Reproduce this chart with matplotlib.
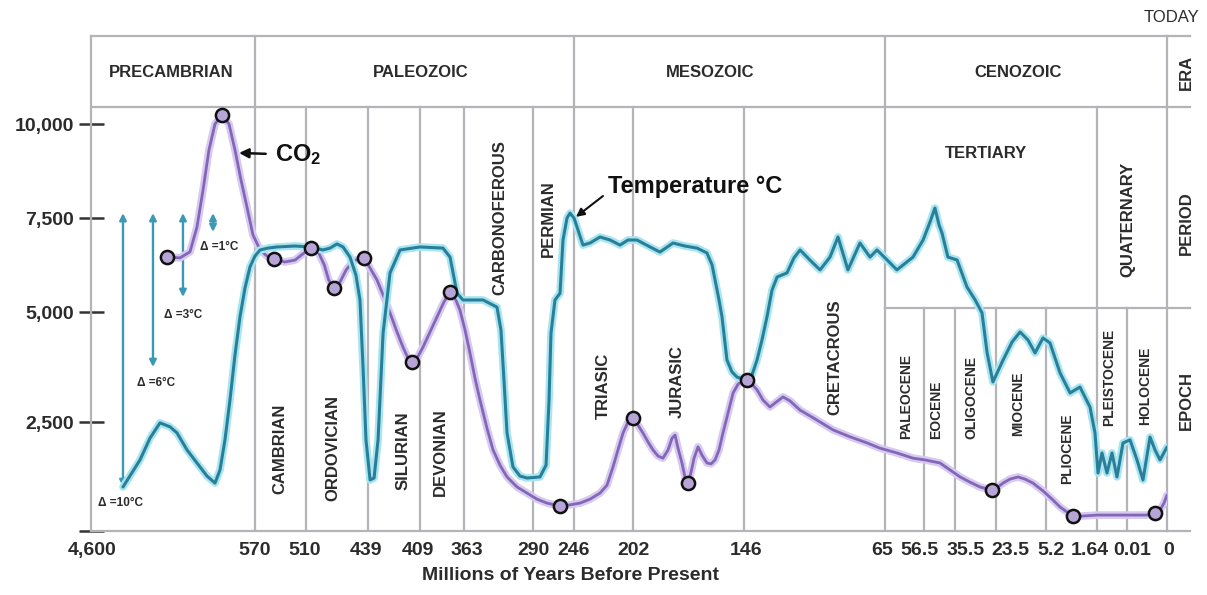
import numpy as np
import matplotlib
matplotlib.use("Agg")
import matplotlib.pyplot as plt
from matplotlib.ticker import NullLocator
from matplotlib.transforms import blended_transform_factory

plt.rcParams['font.family'] = ['Liberation Sans', 'DejaVu Sans']
plt.rcParams['mathtext.fontset'] = 'custom'
plt.rcParams['mathtext.rm'] = 'Liberation Sans:bold'
plt.rcParams['mathtext.it'] = 'Liberation Sans:bold'

# x axis: millions of years before present (uneven spacing, as in the chart)
tick_ages = [4600, 570, 510, 439, 409, 363, 290, 246, 202, 146,
             65, 56.5, 35.5, 23.5, 5.2, 1.64, 0.01, 0]
tick_labels = ["4,600", "570", "510", "439", "409", "363", "290", "246", "202", "146",
               "65", "56.5", "35.5", "23.5", "5.2", "1.64", "0.01", "0"]
y_ticks = [0, 2500, 5000, 7500, 10000]
y_labels = ["", "2,500", "5,000", "7,500", "10,000"]

# CO2 curve (ppm)
co2_age = [2733, 2413, 2168, 1996, 1848, 1701, 1553, 1381, 1209, 1062, 914, 767, 620,
           564, 556, 548, 535, 523, 514, 504, 496, 489, 484, 478, 471, 464, 456, 444,
           437.8, 433.8, 429.8, 426.3, 422.3, 418.8, 415.9, 413.6, 410.7, 405.9, 398.5,
           391.2, 383.9, 377.6, 372.4, 367.2, 361.9, 356.7, 351.4, 346.1, 338.7, 332.3,
           324.9, 317.5, 306.9, 296.3, 285.7, 275, 261, 250.3, 241.5, 234.1, 226.6,
           221.4, 216.9, 213.2, 209.4, 205.7, 202, 199.5, 197, 194.4, 191.9, 189.4,
           186.9, 184.3, 182.3, 180.8, 179.3, 177.3, 175.8, 174.3, 172.7, 171.2, 169.2,
           167.2, 164.7, 162.6, 160.6, 158.6, 156.6, 154.1, 151.5, 149, 146.5, 144.3,
           141.4, 138.5, 135.1, 131.1, 127.6, 123.6, 119.6, 113.8, 105.2, 94.9, 85.1,
           75.3, 67.9, 62.4, 58.9, 55.8, 45.7, 38.9, 34.0, 31.1, 28.2, 24.7, 22.8, 20.9,
           18.4, 15.4, 12.9, 10.0, 6.3, 4.71, 4.22, 3.73, 3.32, 2.83, 1.64, 0.01, 0.005,
           0.003, 0.00175, 0.00075, 0.0]
co2_ppm = [6460, 6440, 6600, 7260, 8240, 9310, 10000, 10240, 10000, 9310, 8510, 7790, 7050,
           6650, 6490, 6410, 6330, 6380, 6540, 6700, 6600, 6250, 5850, 5640, 5800, 6120,
           6360, 6440, 6170, 5850, 5400, 4980, 4550, 4200, 3950, 3860, 3950, 4200, 4550,
           4890, 5270, 5530, 5370, 5050, 4590, 4070, 3500, 3000, 2360, 1860, 1510, 1240,
           1010, 870, 730, 640, 570, 600, 640, 730, 870, 1050, 1470, 1860, 2250, 2500,
           2590, 2430, 2250, 2040, 1860, 1720, 1670, 1860, 2130, 2200, 1900, 1560, 1240,
           1100, 1350, 1670, 1930, 1740, 1560, 1540, 1630, 1860, 2250, 2700, 3160, 3360,
           3450, 3450, 3360, 3230, 3000, 2840, 2950, 3070, 2980, 2770, 2570, 2320, 2160,
           2020, 1900, 1790, 1670, 1630, 1560, 1400, 1240, 1120, 1010, 940, 1010, 1100,
           1190, 1240, 1190, 1100, 920, 710, 550, 435, 340, 340, 365, 365, 365, 410, 480,
           640, 825]

# sample points circled on the CO2 curve
co2_pts_age = [2733, 1381, 548, 504, 478, 444, 413.6, 377.6, 261, 202, 174.3, 144.3,
               24.7, 3.32, 0.003]
co2_pts_ppm = [6460, 10240, 6410, 6700, 5640, 6440, 3860, 5530, 570, 2590, 1100, 3450,
               940, 340, 410]

# temperature curve (drawn on the same vertical scale)
temp_age = [3814, 3396, 3150, 2905, 2659, 2487, 2241, 1996, 1750, 1553, 1430, 1308, 1185,
            1062, 939, 816, 693, 570, 564, 554.7, 544.1, 523, 505.4, 490.5, 482.5, 474.5,
            467.6, 459.6, 452.8, 448.2, 444.7, 441.3, 437.8, 435.5, 433.2, 430.3, 426.3,
            420.5, 409, 385, 377.6, 370.3, 364.1, 342.9, 328.1, 323.9, 320.7, 317.5,
            311.2, 303.8, 296.3, 282.5, 276, 272.8, 270.7, 266.4, 261, 257.8, 253.5,
            250.3, 246, 243, 239.3, 234.1, 226.6, 219.1, 211.7, 205.7, 200, 193.4, 188.4,
            181.8, 175.8, 169.7, 164.7, 162.1, 160.6, 158.6, 157.1, 154.6, 152.1, 149.5,
            144.3, 141.4, 138.5, 135.7, 132.8, 129.9, 127.0, 121.3, 117.3, 113.8, 108.1,
            102.3, 96.6, 92.0, 86.3, 79.4, 73.6, 69.6, 65.0, 62.4, 58.9, 56.7, 52.4, 49.1,
            46.3, 44.3, 40.3, 34.9, 32.0, 29.6, 27.6, 26.1, 24.4, 20.9, 17.6, 14.7, 11.8,
            9.2, 6.3, 4.92, 4.22, 3.52, 2.83, 2.13, 1.78, 1.586, 1.37, 1.097, 0.826,
            0.554, 0.228, 0.00925, 0.0075, 0.006, 0.00425, 0.003, 0.00175, 0.0]
temp_val = [1010, 1630, 2130, 2480, 2390, 2250, 1860, 1560, 1260, 1100, 1400, 2090, 3000,
            4020, 4890, 5640, 6200, 6490, 6650, 6700, 6730, 6755, 6730, 6650, 6700, 6810,
            6730, 6460, 5980, 5320, 3750, 2090, 1170, 1215, 2090, 4520, 6040, 6650, 6730,
            6700, 6460, 5500, 5320, 5320, 5130, 4590, 3450, 2250, 1470, 1260, 1215, 1240,
            1510, 3000, 4520, 5320, 5500, 6915, 7500, 7630, 7500, 7180, 6780, 6835, 6995,
            6915, 6780, 6915, 6915, 6730, 6595, 6835, 6755, 6700, 6570, 6250, 5850, 5320,
            4890, 3910, 3640, 3520, 3450, 3570, 3910, 4360, 4890, 5585, 5930, 6040, 6440,
            6650, 6380, 6120, 6460, 6995, 6120, 6835, 6460, 6650, 6440, 6120, 6460, 6915,
            7395, 7765, 7315, 7100, 6460, 6385, 5665, 5320, 4980, 4070, 3410, 3910, 4320,
            4545, 4365, 4070, 4410, 4295, 3615, 3160, 3295, 2840, 2250, 1330, 1790, 1330,
            1790, 1240, 2020, 2090, 1630, 1170, 2155, 1860, 1630, 1925]

# temperature range arrows on the left
delta_age = [3814, 3077, 2340, 1602]
delta_top = [7630, 7630, 7630, 7630]
delta_bottom = [1010, 3750, 5400, 7130]
delta_labels = ["Δ =10°C", "Δ =6°C", "Δ =3°C", "Δ =1°C"]

era_names = ["PRECAMBRIAN", "PALEOZOIC", "MESOZOIC", "CENOZOIC"]
era_bounds = [570, 246, 65]
period_bounds = [510, 439, 409, 363, 290, 202, 146, 1.64]
epoch_bounds = [56.5, 35.5, 23.5, 5.2, 0.01]
period_names = ["CAMBRIAN", "ORDOVICIAN", "SILURIAN", "DEVONIAN", "CARBONOFEROUS",
                "PERMIAN", "TRIASIC", "JURASIC", "CRETACROUS", "QUATERNARY"]
epoch_names = ["PALEOCENE", "EOCENE", "OLIGOCENE", "MIOCENE", "PLIOCENE",
               "PLEISTOCENE", "HOLOCENE"]

# layout of the uneven scales (axis units at each tick)
tick_pos = [91, 255, 306, 368, 420, 464, 533, 574, 633, 744,
            885, 924, 955, 996, 1046, 1097, 1127, 1167]
_a = np.array([-0.01] + tick_ages[::-1] + [9000.0])
_p = np.array([1207.0] + tick_pos[::-1] + [-88.0])
_v = np.array([-2500, 0, 2500, 5000, 7500, 10000, 14000], dtype=float)
_q = np.array([-109, 0, 109, 219, 313, 407, 557], dtype=float)


def age_fwd(x):
    # increasing with age, the axis itself is inverted
    return -np.interp(x, _a, _p)


def age_inv(p):
    return np.interp(-np.asarray(p), _p[::-1], _a[::-1])


def ppm_fwd(y):
    return np.interp(y, _v, _q)


def ppm_inv(q):
    return np.interp(q, _q, _v)


txt = '#2b2b2b'
grid_c = '#b4b4b8'
purple = '#8466b8'
teal = '#2a7f98'

fig = plt.figure(figsize=(12.07, 5.95), dpi=100)
ax = fig.add_axes([91/1207, 64/595, 1076/1207, 495/595])
ax.set_xscale('function', functions=(age_fwd, age_inv))
ax.set_yscale('function', functions=(ppm_fwd, ppm_inv))
ax.set_xlim(4600, 0)
ax.set_ylim(0, 12347)

for s in ax.spines.values():
    s.set_color(grid_c)
    s.set_linewidth(1.6)

# header / grid structure
era_y = 0.8566
epoch_y = 0.4505
for a in era_bounds:
    ax.axvline(a, ymin=0, ymax=1, color=grid_c, lw=1.6, zorder=1)
for a in period_bounds:
    ax.axvline(a, ymin=0, ymax=era_y, color=grid_c, lw=1.6, zorder=1)
for a in epoch_bounds:
    ax.axvline(a, ymin=0, ymax=epoch_y, color=grid_c, lw=1.6, zorder=1)
ax.plot([0, 1], [era_y, era_y], transform=ax.transAxes, color=grid_c, lw=1.6, zorder=1)
btrans = blended_transform_factory(ax.transData, ax.transAxes)
ax.plot([65, 0], [epoch_y, epoch_y], transform=btrans, color=grid_c, lw=1.6, zorder=1)
for yf in [0, epoch_y, era_y, 1.0]:
    ax.plot([1, 1.0214], [yf, yf], transform=ax.transAxes, clip_on=False,
            color=grid_c, lw=1.6)

# curves
ax.plot(co2_age, co2_ppm, color='#d6caef', lw=5.5, solid_capstyle='round',
        solid_joinstyle='round', zorder=3)
ax.plot(co2_age, co2_ppm, color=purple, lw=2.0, solid_capstyle='round',
        solid_joinstyle='round', zorder=4)
ax.plot(temp_age, temp_val, color='#a8e5f0', lw=5.5, solid_capstyle='round',
        solid_joinstyle='round', zorder=5)
ax.plot(temp_age, temp_val, color=teal, lw=2.2, solid_capstyle='round',
        solid_joinstyle='round', zorder=6)
ax.plot(co2_pts_age, co2_pts_ppm, 'o', ls='none', ms=9.5, mfc='#b7a5d8', mec='#111111',
        mew=1.8, zorder=8)

# delta arrows
for a, t, b in zip(delta_age, delta_top, delta_bottom):
    ax.annotate('', xy=(a, t), xytext=(a, b),
                arrowprops=dict(arrowstyle='<|-|>', color='#3a9ab5', lw=1.7,
                                mutation_scale=10, shrinkA=0, shrinkB=0), zorder=2)
delta_xy = [(3863, 640), (3003, 3390), (2340, 4930), (1455, 6730)]
for lab, (x, y) in zip(delta_labels, delta_xy):
    ax.text(x, y, lab, ha='center', va='center', fontsize=8.5, fontweight='bold', color=txt)

# annotations
ax.annotate("CO$_2$", xy=(964, 9230), xytext=(546, 9180), ha='left', va='center',
            fontsize=17, fontweight='bold', color='#111111',
            arrowprops=dict(arrowstyle='-|>', color='#111111', lw=1.8,
                            mutation_scale=14, shrinkA=5, shrinkB=0), zorder=9)
ax.text(220.6, 8325, "Temperature °C", ha='left', va='center', fontsize=17,
        fontweight='bold', color='#111111', zorder=9)
ax.annotate('', xy=(244.5, 7530), xytext=(224.4, 8085),
            arrowprops=dict(arrowstyle='-|>', color='#111111', lw=1.5,
                            mutation_scale=12, shrinkA=0, shrinkB=0), zorder=9)

# era labels
era_x = [2634, 408, 163, 15.4]
for name, x in zip(era_names, era_x):
    ax.text(x, 0.927, name, transform=btrans, ha='center', va='center',
            fontsize=12, fontweight='bold', color=txt)

# period labels
period_xy = [(540.6, 0.1657), (479, 0.1677), (418.8, 0.1616), (388.1, 0.1596),
             (324.9, 0.6323), (273.9, 0.6303), (224.4, 0.2929), (179.8, 0.3010),
             (93.7, 0.3515), (0.00975, 0.6303)]
for name, (x, y) in zip(period_names, period_xy):
    ax.text(x, y, name, transform=btrans, rotation=90, ha='center', va='center',
            fontsize=12, fontweight='bold', color=txt)
ax.text(26.4, 0.7636, "TERTIARY", transform=btrans, ha='center', va='center',
        fontsize=12, fontweight='bold', color=txt)

# epoch labels
epoch_xy = [(60.4, 0.2727), (48.4, 0.2444), (30.8, 0.2707), (15.4, 0.2566),
            (3.73, 0.1657), (0.988, 0.3111), (0.0055, 0.2929)]
for name, (x, y) in zip(epoch_names, epoch_xy):
    ax.text(x, y, name, transform=btrans, rotation=90, ha='center', va='center',
            fontsize=10, fontweight='bold', color=txt)

# right column
for name, yf in [("ERA", 0.927), ("PERIOD", 0.622), ("EPOCH", 0.2646)]:
    ax.text(1.0177, yf, name, transform=ax.transAxes, rotation=90, ha='center',
            va='center', fontsize=12, fontweight='bold', color=txt)

# ticks
ax.set_yticks(y_ticks)
ax.set_yticklabels(y_labels)
ax.yaxis.set_minor_locator(NullLocator())
ax.tick_params(axis='y', direction='inout', length=18, width=1.8, color='#333333',
               pad=3, labelsize=14, labelcolor=txt)
for lab in ax.get_yticklabels():
    lab.set_fontweight('bold')
ax.set_xticks([])
ax.xaxis.set_minor_locator(NullLocator())

label_dx = [1, 0, -1, -2, -2, 3, 0, 0, 1, 2, -3, -5, 11, 14, 5, -7, 5, 2]
for a, lab, dx in zip(tick_ages, tick_labels, label_dx):
    ax.annotate(lab, xy=(a, 0), xycoords=btrans, xytext=(dx * 0.72, -13.7),
                textcoords='offset points', ha='center', va='center',
                fontsize=14, fontweight='bold', color=txt, annotation_clip=False)

fig.text(1171/1207, 1 - 18/595, "TODAY", ha='center', va='center', fontsize=12,
         color=txt)
fig.text(570/1207, 1 - 575/595, "Millions of Years Before Present", ha='center',
         va='center', fontsize=14, fontweight='bold', color=txt)

fig.savefig("out.png", dpi=100, facecolor='white')
